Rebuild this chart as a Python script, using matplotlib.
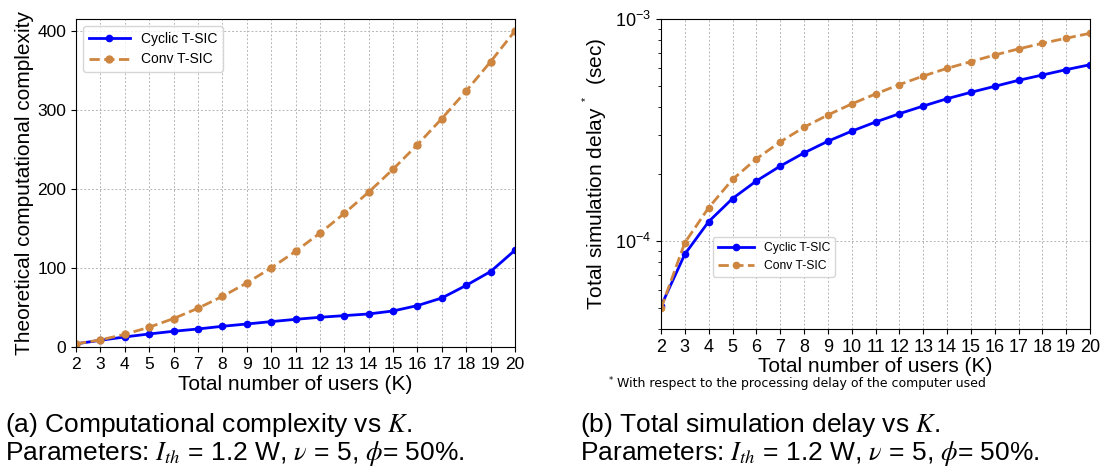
import matplotlib
matplotlib.use("Agg")
import matplotlib.pyplot as plt
from matplotlib.ticker import LogLocator, NullFormatter

plt.rcParams['font.family'] = ['Liberation Sans', 'DejaVu Sans']
plt.rcParams['mathtext.fontset'] = 'custom'
plt.rcParams['mathtext.rm'] = 'Liberation Sans'
plt.rcParams['mathtext.it'] = 'STIXGeneral:italic'
plt.rcParams['mathtext.bf'] = 'Liberation Sans:bold'

K = list(range(2, 21))
cyclic_complexity = [4, 8.5, 12.7, 16.5, 19.9, 22.8, 26.2, 29.1, 32.1, 35.0, 37.6, 39.7,
                     41.8, 45.6, 52.4, 62.0, 78.0, 95.5, 122.5]
conv_complexity = [4, 9, 16, 25, 36, 49, 64, 81, 100, 121, 144, 169, 196, 225, 256, 289,
                   324, 361, 400]
cyclic_delay = [5.07e-5, 8.7e-5, 1.22e-4, 1.55e-4, 1.86e-4, 2.17e-4, 2.49e-4, 2.81e-4,
                3.12e-4, 3.43e-4, 3.74e-4, 4.05e-4, 4.37e-4, 4.67e-4, 4.97e-4, 5.29e-4,
                5.59e-4, 5.91e-4, 6.22e-4]
conv_delay = [4.95e-5, 9.8e-5, 1.41e-4, 1.89e-4, 2.34e-4, 2.79e-4, 3.25e-4, 3.69e-4,
              4.14e-4, 4.59e-4, 5.06e-4, 5.53e-4, 5.99e-4, 6.42e-4, 6.88e-4, 7.33e-4,
              7.77e-4, 8.19e-4, 8.62e-4]
series_labels = ["Cyclic T-SIC", "Conv T-SIC"]

BLUE = '#0000ff'
PERU = '#cd853f'
W, H = 1110, 475
fig = plt.figure(figsize=(W / 100, H / 100), dpi=100)


def box(l, t, r, b):
    return [l / W, 1 - b / H, (r - l) / W, (b - t) / H]


grid_kw = dict(color='#b5b5b5', linestyle=(0, (2, 2)), linewidth=0.7)

# left panel
ax1 = fig.add_axes(box(76, 19, 515, 347))
ax1.plot(K, cyclic_complexity, '-o', color=BLUE, lw=2, ms=4.5, label=series_labels[0])
ax1.plot(K, conv_complexity, '--o', color=PERU, lw=2, ms=5, label=series_labels[1])
ax1.set_xlim(2, 20)
ax1.set_ylim(0, 415)
ax1.set_xticks(K)
ax1.set_yticks([0, 100, 200, 300, 400])
ax1.tick_params(labelsize=12.5)
ax1.grid(True, **grid_kw)
ax1.set_xlabel('Total number of users (K)', fontsize=15, labelpad=2)
ax1.set_ylabel('Theoretical computational complexity', fontsize=15, labelpad=2)
ax1.legend(loc='upper left', fontsize=10, handlelength=3)

# right panel
ax2 = fig.add_axes(box(661, 19, 1090, 329))
ax2.plot(K, cyclic_delay, '-o', color=BLUE, lw=2, ms=4.5, label=series_labels[0])
ax2.plot(K, conv_delay, '--o', color=PERU, lw=2, ms=4.5, label=series_labels[1])
ax2.set_yscale('log')
ax2.set_xlim(2, 20)
ax2.set_ylim(4e-5, 1e-3)
ax2.set_xticks(K)
ax2.yaxis.set_minor_locator(LogLocator(base=10, subs=range(2, 10)))
ax2.yaxis.set_minor_formatter(NullFormatter())
ax2.tick_params(labelsize=13)
ax2.grid(True, which='major', **grid_kw)
ax2.set_xlabel('Total number of users (K)', fontsize=15, labelpad=1)
ax2.set_ylabel(r'Total simulation delay $^{^{*}}$  (sec)', fontsize=15, labelpad=4)
ax2.legend(loc='upper left', bbox_to_anchor=(0.121, 0.297), borderaxespad=0,
           fontsize=8.7, handlelength=3)

# footnote
fig.text(609 / W, 1 - 380 / H, '*', fontsize=6, family='DejaVu Sans', va='center')
fig.text(617 / W, 1 - 384 / H, 'With respect to the processing delay of the computer used',
         fontsize=9, family='DejaVu Sans', va='center')

# captions
cap_kw = dict(fontsize=19, va='center')
fig.text(5 / W, 1 - 425 / H, r'(a) Computational complexity vs $K$.', **cap_kw)
fig.text(5 / W, 1 - 453 / H, r'Parameters: $I_{th}$ = 1.2 W, $\nu$ = 5, $\phi$= 50%.', **cap_kw)
fig.text(580 / W, 1 - 425 / H, r'(b) Total simulation delay vs $K$.', **cap_kw)
fig.text(580 / W, 1 - 453 / H, r'Parameters: $I_{th}$ = 1.2 W, $\nu$ = 5, $\phi$= 50%.', **cap_kw)

fig.savefig('out.png', dpi=100)
